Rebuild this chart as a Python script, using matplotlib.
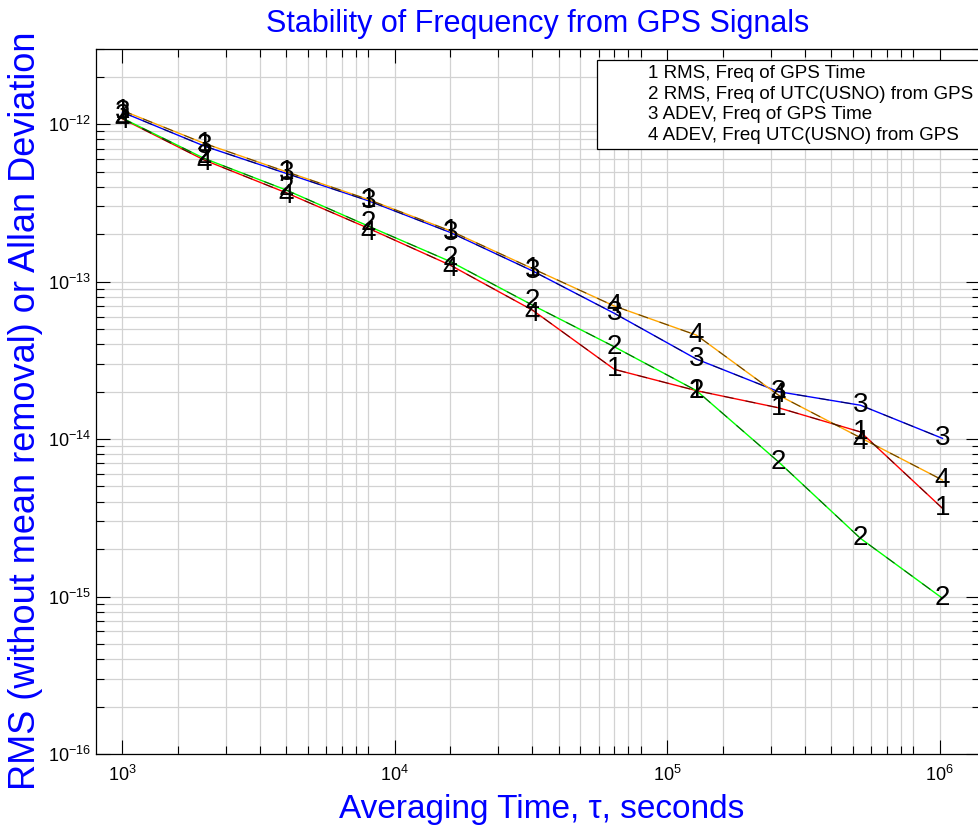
import numpy as np
import matplotlib.pyplot as plt
from matplotlib.lines import Line2D
from matplotlib.ticker import FixedLocator, LogLocator, NullFormatter, FuncFormatter

plt.rcParams["font.family"] = ["Liberation Sans", "DejaVu Sans"]
plt.rcParams["mathtext.fontset"] = "custom"
plt.rcParams["mathtext.rm"] = "Liberation Sans"
plt.rcParams["mathtext.it"] = "Liberation Sans:italic"

# averaging times (s)
tau = [1000, 2000, 4000, 8000, 16000, 32000, 64000, 128000, 256000, 512000, 1024000]

# traces as they are drawn, keyed by colour
orange_line = [1.22e-12, 7.54e-13, 4.98e-13, 3.32e-13, 2.10e-13, 1.21e-13, 6.99e-14, 4.57e-14, 1.90e-14, 1.02e-14, 5.49e-15]
blue_line = [1.19e-12, 7.25e-13, 4.86e-13, 3.26e-13, 2.05e-13, 1.17e-13, 6.28e-14, 3.22e-14, 2.00e-14, 1.64e-14, 1.01e-14]
green_line = [1.09e-12, 6.05e-13, 3.81e-13, 2.25e-13, 1.34e-13, 7.09e-14, 3.85e-14, 2.03e-14, 7.17e-15, 2.34e-15, 9.74e-16]
red_line = [1.08e-12, 5.91e-13, 3.66e-13, 2.18e-13, 1.27e-13, 6.59e-14, 2.77e-14, 2.03e-14, 1.58e-14, 1.11e-14, 3.63e-15]

# numbered point labels, keyed by series
series_1 = [1.22e-12, 7.5e-13, 5.0e-13, 3.3e-13, 2.1e-13, 1.21e-13, 2.77e-14, 2.03e-14, 1.58e-14, 1.11e-14, 3.63e-15]
series_2 = [1.12e-12, 6.3e-13, 3.95e-13, 2.35e-13, 1.42e-13, 7.5e-14, 3.85e-14, 2.03e-14, 7.17e-15, 2.34e-15, 9.74e-16]
series_3 = [1.19e-12, 7.25e-13, 4.86e-13, 3.26e-13, 2.05e-13, 1.17e-13, 6.28e-14, 3.22e-14, 2.00e-14, 1.64e-14, 1.01e-14]
series_4 = [1.04e-12, 5.7e-13, 3.5e-13, 2.05e-13, 1.2e-13, 6.2e-14, 6.99e-14, 4.57e-14, 1.90e-14, 9.6e-15, 5.49e-15]

legend_labels = [
    "1 RMS, Freq of GPS Time",
    "2 RMS, Freq of UTC(USNO) from GPS",
    "3 ADEV, Freq of GPS Time",
    "4 ADEV, Freq UTC(USNO) from GPS",
]

fig = plt.figure(figsize=(9.79, 8.27), dpi=100)
ax = fig.add_axes([96 / 979, 1 - 754 / 827, (979.5 - 96) / 979, (754 - 49) / 827])
ax.set_xscale("log")
ax.set_yscale("log")
ax.set_xlim(800, 1.4e6)
ax.set_ylim(1e-16, 3e-12)

# coloured traces with a black dashed overlay
for vals, col in [(red_line, "#ff0000"), (green_line, "#00ff00"),
                  (blue_line, "#0000ff"), (orange_line, "#ffa500")]:
    ax.plot(tau, vals, color=col, lw=1.0, zorder=3)
    ax.plot(tau, vals, color="black", lw=0.8, dashes=(9, 11), alpha=0.6, zorder=4)

for num, vals in [(4, series_4), (2, series_2), (3, series_3), (1, series_1)]:
    for t, v in zip(tau, vals):
        ax.text(t, v, str(num), fontsize=20, ha="center", va="center",
                color="black", zorder=5)

# grid: IDL style minor divisions at multiples of 800 * 10^d
xminor = [800 * 10 ** d * n for d in range(3) for n in range(2, 11)]
ax.xaxis.set_major_locator(FixedLocator([1e3, 1e4, 1e5, 1e6]))
ax.xaxis.set_minor_locator(FixedLocator(xminor))
ax.yaxis.set_major_locator(LogLocator(base=10, numticks=10))
ax.yaxis.set_minor_locator(LogLocator(base=10, subs=np.arange(2, 10), numticks=20))
ax.xaxis.set_minor_formatter(NullFormatter())
ax.yaxis.set_minor_formatter(NullFormatter())
fmt = FuncFormatter(lambda v, p: r"$10^{%d}$" % int(round(np.log10(v))))
ax.xaxis.set_major_formatter(fmt)
ax.yaxis.set_major_formatter(fmt)

ax.grid(True, which="both", color="#d2d2d2", lw=0.9, zorder=0)
ax.set_axisbelow(True)
ax.tick_params(which="both", direction="in", top=True, right=True, labelsize=13, colors="black")
ax.tick_params(which="major", length=10, width=0.8)
ax.tick_params(which="minor", length=6, width=0.8)
ax.tick_params(axis="x", pad=8)
for s in ax.spines.values():
    s.set_linewidth(0.9)

ax.set_title("Stability of Frequency from GPS Signals", fontsize=22, color="blue", pad=12)
ax.set_xlabel("Averaging Time, τ, seconds", fontsize=24, color="blue")
ax.xaxis.set_label_coords(0.505, -0.057)
ax.set_ylabel("RMS (without mean removal) or Allan Deviation", fontsize=26, color="blue")
ax.yaxis.set_label_coords(-0.060, 0.487)

handles = [Line2D([], [], color="none") for _ in legend_labels]
leg = ax.legend(handles, legend_labels, loc="upper right", bbox_to_anchor=(0.999, 0.985),
                borderaxespad=0, fancybox=False, framealpha=1, edgecolor="black",
                fontsize=13.5, handlelength=2.0, handletextpad=0.4, labelspacing=0.18,
                borderpad=0.3)
leg.get_frame().set_linewidth(0.9)

fig.savefig("out.png", dpi=100)
